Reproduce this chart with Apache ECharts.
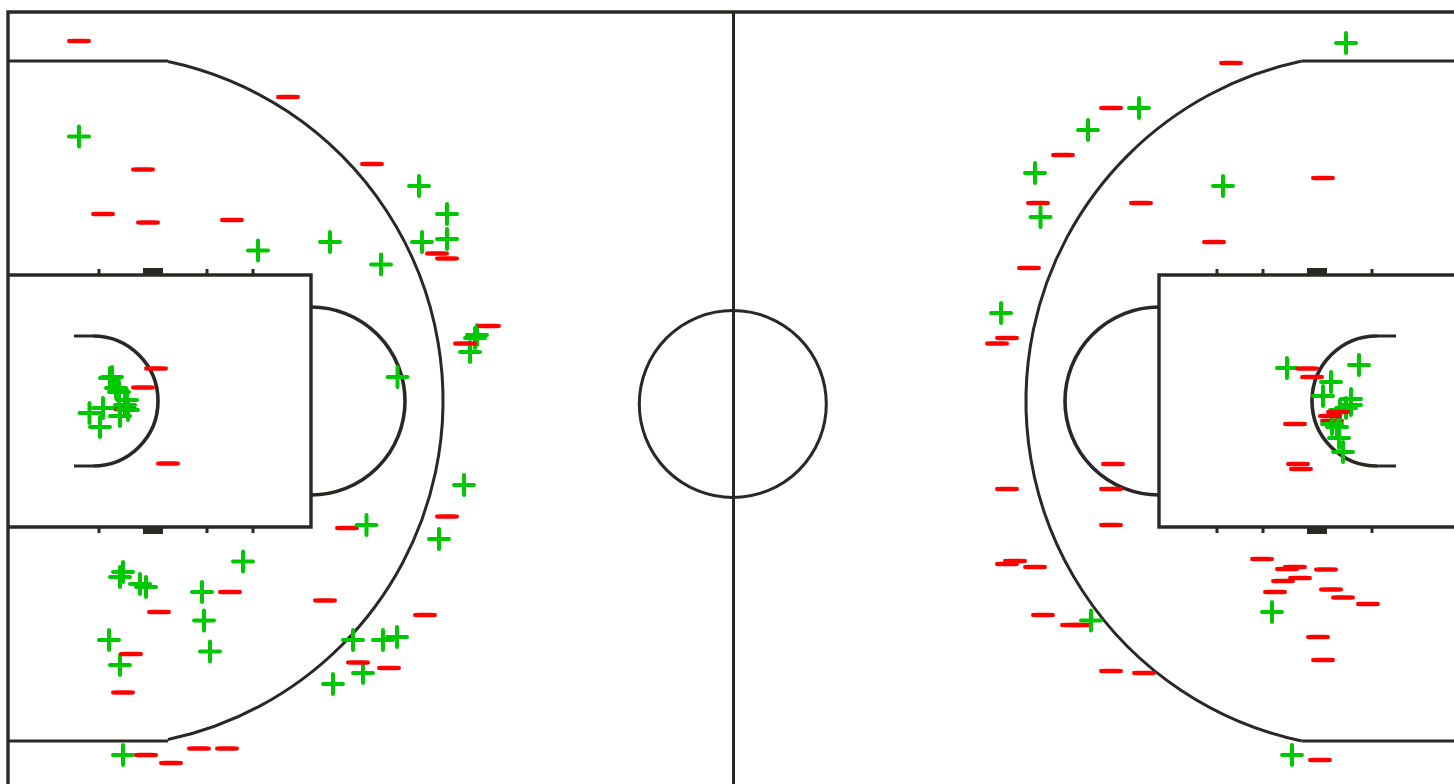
<!DOCTYPE html>
<html>
<head>
<meta charset="utf-8">
<style>html,body{margin:0;padding:0;background:#fff}#c{width:1454px;height:784px}</style>
<script src="https://cdn.jsdelivr.net/npm/echarts@6/dist/echarts.min.js"></script>
</head>
<body>
<div id="c"></div>
<script>
// Shots, in court coordinates
const madeShots = [
  [79,136.5],[419,186],[447,214],[447,239],[422,242],[330,242],[258,250.5],[381,264.5],
  [477,335],[475,338],[470,352],[397.5,377],[464,485],
  [110,378],[112,377],[116,388],[119,392],[127,400],[125,405],[128,410],[120,416],[103,408],[89.5,413],[100,427],
  [366.5,525],[439,539],[243,561.5],[123,572],[120,577],[140,584],[146,587],[202,592],[204,620.5],
  [109,640],[210,651.5],[120,665],[353,640],[383,640],[397,637],[363,673],[333,684],[123,755],
  [1346,43],[1139,108],[1088,130],[1035,173],[1223,186],[1040.5,217],[1001,313],
  [1287,368],[1359,365],[1331,382],[1323,396],[1351,399],[1351,405],[1346,408],[1340,410],
  [1332,424],[1337,427],[1339,438],[1343,452],
  [1091,620.5],[1272,612],[1292,755]
];
const missedBehind = [[125,409],[1332,421],[1072,625],[1080,625],[347,528]];
const missedShots = [
  [79,41],[288,97],[372,164],[143,169.5],[103,214],[148,222.5],[232,220],[437,253.5],[447,258.5],
  [489,326],[465,343.5],[156,368.5],[143,387.5],[168,463.5],
  [447,516.5],[230,592],[159,612],[325,600.5],[425,615],[131,654],[358,662.5],[389,668],
  [123,692.5],[199,748.5],[227,748.5],[146,755],[171,763],
  [1231,63],[1111,108],[1063,155],[1323,178],[1038,203],[1141,203],[1214,242],[1029,268],
  [1007,338],[997,343.5],[1307,368.5],[1312,377],[1295,424],[1298,464],[1301,469],
  [1338,412],[1330,416],
  [1113,464],[1111,489],[1007,489],[1111,525],
  [1262,559],[1295,567],[1287,569],[1326,569.5],[1300,578],[1283,581],[1331,589.5],[1275,592],
  [1343,597.5],[1368,604],[1318,637],[1323,660],[1015,561],[1007,564],[1035,567],[1043,615],
  [1111,671],[1144,673],[1320,760]
];
// Court drawing, in the same coordinates
const courtLines = [
  [[8,784],[8,12],[1454,12]],
  [[733.5,12],[733.5,784]],
  [[8,61],[168,61]],[[8,741],[168,741]],
  [[1302,61],[1454,61]],[[1302,741],[1454,741]],
  [[8,275],[311,275],[311,527],[8,527]],
  [[1454,275],[1159,275],[1159,527],[1454,527]],
  [[74,336],[93,336]],[[74,466],[93,466]],
  [[1396,336],[1377,336]],[[1396,466],[1377,466]],
  [[99,269],[99,275]],[[207,269],[207,275]],[[253,269],[253,275]],
  [[99,527],[99,533]],[[207,527],[207,533]],[[253,527],[253,533]],
  [[1217,269],[1217,275]],[[1263,269],[1263,275]],[[1372,269],[1372,275]],
  [[1217,527],[1217,533]],[[1263,527],[1263,533]],[[1372,527],[1372,533]]
];
const courtArcs = [ // centre x, centre y, radius, start deg, end deg
  [96.5,400.5,346.5,-78.1,78.1],
  [1373.4,401,347.4,101.9,258.1],
  [311,401,94,-90,90],
  [1159,401,94,90,270],
  [93,401,65,-90,90],
  [1377,401,65,90,270],
  [732.8,404,93.5,0,360]
];
const backboards = [[143,268,163,275],[143,527,163,534],[1307,268,1327,275],[1307,527,1327,534]];

const INK = '#2a2825', GREEN = '#00c800', RED = '#ff0000';
const PLUS = 'path://M10 2A2 2 0 0 1 14 2V10H22A2 2 0 0 1 22 14H14V22A2 2 0 0 1 10 22V14H2A2 2 0 0 1 2 10H10Z';

function renderCourt(params, api) {
  const children = [];
  courtLines.forEach(l => children.push({
    type: 'polyline',
    shape: { points: l.map(p => api.coord(p)) },
    style: { fill: 'none', stroke: INK, lineWidth: l.length > 2 ? 3.4 : 3 }
  }));
  courtArcs.forEach(a => {
    const c = api.coord([a[0], a[1]]);
    children.push({
      type: 'arc',
      shape: { cx: c[0], cy: c[1], r: api.size([a[2], 0])[0],
               startAngle: a[3] * Math.PI / 180, endAngle: a[4] * Math.PI / 180, clockwise: true },
      style: { fill: 'none', stroke: INK, lineWidth: a[2] > 300 || a[2] === 93.5 ? 3 : 3.6 }
    });
  });
  backboards.forEach(b => {
    const p = api.coord([b[0], b[1]]), q = api.coord([b[2], b[3]]);
    children.push({ type: 'rect', shape: { x: p[0], y: p[1], width: q[0] - p[0], height: q[1] - p[1] }, style: { fill: INK } });
  });
  return { type: 'group', children };
}

const minusSeries = (name, data, z) => ({
  name, type: 'scatter', data, z, symbol: 'roundRect', symbolSize: [23.5, 4.6],
  itemStyle: { color: RED, opacity: 1 }, silent: true
});

echarts.init(document.getElementById('c'), null, { renderer: 'canvas' }).setOption({
  animation: false,
  backgroundColor: '#ffffff',
  grid: { left: 0, right: 0, top: 0, bottom: 0 },
  xAxis: { type: 'value', min: 0, max: 1454, show: false },
  yAxis: { type: 'value', min: 0, max: 784, inverse: true, show: false },
  series: [
    { type: 'custom', name: 'court', renderItem: renderCourt, data: [[0, 0]], z: 1, silent: true, clip: false },
    minusSeries('missed (behind)', missedBehind, 2),
    { name: 'made', type: 'scatter', data: madeShots, z: 3, symbol: PLUS, symbolSize: 24,
      itemStyle: { color: GREEN, opacity: 1 }, silent: true },
    minusSeries('missed', missedShots, 4)
  ]
});
</script>
</body>
</html>
